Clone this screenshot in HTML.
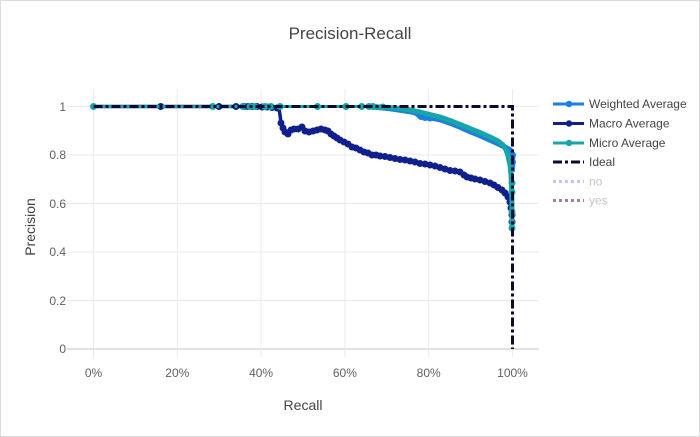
<!DOCTYPE html>
<html><head><meta charset="utf-8"><style>
html,body{margin:0;padding:0;background:#fff;}
svg{display:block;font-family:"Liberation Sans",Arial,sans-serif;}
</style></head><body>
<svg width="700" height="437" viewBox="0 0 700 437" xmlns="http://www.w3.org/2000/svg">
<rect x="0.5" y="0.5" width="699" height="436" fill="#fff" stroke="#dcdcdc" stroke-width="1"/>
<!-- grid -->
<g stroke="#ebebeb" stroke-width="1">
<line x1="93.5" y1="89" x2="93.5" y2="357"/>
<line x1="177.3" y1="89" x2="177.3" y2="357"/>
<line x1="261.1" y1="89" x2="261.1" y2="357"/>
<line x1="344.9" y1="89" x2="344.9" y2="357"/>
<line x1="428.7" y1="89" x2="428.7" y2="357"/>
<line x1="512.5" y1="89" x2="512.5" y2="357"/>
<line x1="67" y1="106.5" x2="539" y2="106.5"/>
<line x1="67" y1="155" x2="539" y2="155"/>
<line x1="67" y1="203.5" x2="539" y2="203.5"/>
<line x1="67" y1="252" x2="539" y2="252"/>
<line x1="67" y1="300.5" x2="539" y2="300.5"/>
</g>
<line x1="67" y1="349" x2="539" y2="349" stroke="#e2e2e2" stroke-width="2"/>
<!-- tick labels -->
<g font-size="12" fill="#606060" text-anchor="end">
<text x="66" y="111">1</text>
<text x="66" y="159">0.8</text>
<text x="66" y="208">0.6</text>
<text x="66" y="256">0.4</text>
<text x="66" y="305">0.2</text>
<text x="66" y="353">0</text>
</g>
<g font-size="12" fill="#606060" text-anchor="middle">
<text x="93.5" y="377">0%</text>
<text x="177.3" y="377">20%</text>
<text x="261.1" y="377">40%</text>
<text x="344.9" y="377">60%</text>
<text x="428.7" y="377">80%</text>
<text x="512.5" y="377">100%</text>
</g>
<text x="350" y="39" font-size="17" fill="#444" text-anchor="middle">Precision-Recall</text>
<text x="303" y="410" font-size="14" fill="#444" text-anchor="middle">Recall</text>
<text transform="translate(35,227) rotate(-90)" font-size="14" fill="#444" text-anchor="middle">Precision</text>

<!-- Weighted -->
<polyline fill="none" stroke="#1a7fe0" stroke-width="3" points="93,106.5 370,106.5"/>
<polyline fill="none" stroke="#1a7fe0" stroke-width="5.5" stroke-linejoin="round" points="370,106.5 390,108.5 410,111.5 416,113 420,116 425,117.5 432,118 440,119.5 450,123 460,127 470,131.5 480,135.5 490,140 500,144.5 505,147 508,149 511,151 512.5,156 512.5,164 512,172"/>
<g fill="#1a7fe0">
<circle cx="421" cy="116.5" r="3.5"/><circle cx="425" cy="117.5" r="3.5"/><circle cx="430" cy="118" r="3.5"/>
<circle cx="509" cy="150" r="3.5"/><circle cx="512.5" cy="155" r="3.5"/><circle cx="512.5" cy="162" r="3.5"/>
</g>
<!-- Macro -->
<polyline fill="none" stroke="#0f1f8c" stroke-width="3.5" stroke-linejoin="round" points="93,106.5 160,106.5 212,106.5 236,106.5 260,106.5 265,107 270,107.5 275,108 279,108.5 280,115 281,123 283,128 285,132 288,134 291,130 294,129 298,129 302,127 305,131 309,132 313,131 317,130 321,129 325,130 328,131 331,134 334,136 337,138 340,140 344,142 348,144 352,147 356,148 360,150 364,152 368,153 372,155 376,155 380,156 385,156.5 390,157.5 395,158.5 400,159.5 405,160 410,161 415,162 420,163.5 425,164 430,165 435,166 440,167.5 445,169 450,170.5 455,171 460,172 464,175 467,177 471,178 475,179 480,180 485,181.5 490,183 494,185 498,187.5 502,190 505,193 508,197 510,202 511,208 511.5,215 512,222 512,228"/>
<g fill="#0f1f8c">
<circle cx="160.7" cy="106.5" r="3.5"/><circle cx="219" cy="106.5" r="3.5"/><circle cx="236" cy="106.5" r="3.5"/>
<circle cx="244" cy="106.5" r="3.5"/><circle cx="248" cy="106.5" r="3.5"/><circle cx="252" cy="106.5" r="3.5"/><circle cx="257" cy="106.5" r="3.5"/>
<circle cx="262" cy="107" r="3.5"/><circle cx="267" cy="107" r="3.5"/><circle cx="272" cy="107.5" r="3.5"/><circle cx="277" cy="108" r="3.5"/>
<circle cx="281" cy="123" r="3.5"/><circle cx="283" cy="128" r="3.5"/><circle cx="285" cy="132" r="3.5"/><circle cx="288" cy="134" r="3.5"/>
<circle cx="291" cy="130" r="3.5"/><circle cx="294" cy="129" r="3.5"/><circle cx="298" cy="129" r="3.5"/><circle cx="302" cy="127" r="3.5"/>
<circle cx="305" cy="131" r="3.5"/><circle cx="309" cy="132" r="3.5"/><circle cx="313" cy="131" r="3.5"/><circle cx="317" cy="130" r="3.5"/>
<circle cx="321" cy="129" r="3.5"/><circle cx="325" cy="130" r="3.5"/><circle cx="328" cy="131" r="3.5"/><circle cx="331" cy="134" r="3.5"/>
<circle cx="334" cy="136" r="3.5"/><circle cx="337" cy="138" r="3.5"/><circle cx="340" cy="140" r="3.5"/><circle cx="344" cy="142" r="3.5"/>
<circle cx="348" cy="144" r="3.5"/><circle cx="352" cy="147" r="3.5"/><circle cx="356" cy="148" r="3.5"/><circle cx="360" cy="150" r="3.5"/>
<circle cx="364" cy="152" r="3.5"/><circle cx="368" cy="153" r="3.5"/><circle cx="372" cy="155" r="3.5"/><circle cx="376" cy="155" r="3.5"/>
<circle cx="380" cy="156" r="3.5"/><circle cx="385" cy="156.5" r="3.5"/><circle cx="390" cy="157.5" r="3.5"/><circle cx="395" cy="158.5" r="3.5"/>
<circle cx="400" cy="159.5" r="3.5"/><circle cx="405" cy="160" r="3.5"/><circle cx="410" cy="161" r="3.5"/><circle cx="415" cy="162" r="3.5"/>
<circle cx="420" cy="163.5" r="3.5"/><circle cx="425" cy="164" r="3.5"/><circle cx="430" cy="165" r="3.5"/><circle cx="435" cy="166" r="3.5"/>
<circle cx="440" cy="167.5" r="3.5"/><circle cx="445" cy="169" r="3.5"/><circle cx="450" cy="170.5" r="3.5"/><circle cx="455" cy="171" r="3.5"/>
<circle cx="460" cy="172" r="3.5"/><circle cx="464" cy="175" r="3.5"/><circle cx="467" cy="177" r="3.5"/><circle cx="471" cy="178" r="3.5"/>
<circle cx="475" cy="179" r="3.5"/><circle cx="480" cy="180" r="3.5"/><circle cx="485" cy="181.5" r="3.5"/><circle cx="490" cy="183" r="3.5"/>
<circle cx="494" cy="185" r="3.5"/><circle cx="498" cy="187.5" r="3.5"/><circle cx="502" cy="190" r="3.5"/><circle cx="505" cy="193" r="3.5"/>
<circle cx="508" cy="197" r="3.5"/><circle cx="510" cy="202" r="3.5"/><circle cx="511" cy="208" r="3.5"/><circle cx="512" cy="215" r="3.5"/>
<circle cx="512" cy="222" r="3.5"/>
</g>
<!-- Micro -->
<polyline fill="none" stroke="#17a5aa" stroke-width="3" points="93,106.5 372,106.5"/>
<polyline fill="none" stroke="#17a5aa" stroke-width="5" stroke-linejoin="round" points="372,106.5 380,107 390,107.5 400,108.5 410,110 420,112 430,114.5 440,117 450,120.5 460,124.5 470,128.5 480,132.5 490,137 498,141 503,145 506,150 508,156 510,165 511,175 511.7,190 512,205 512,228"/>
<g fill="#17a5aa">
<circle cx="93.5" cy="106.5" r="3.5"/><circle cx="212.7" cy="106.5" r="3.5"/><circle cx="242.7" cy="106.5" r="3.5"/>
<circle cx="250" cy="106.5" r="3.5"/><circle cx="255" cy="106.5" r="3.5"/><circle cx="265" cy="106.5" r="3.5"/><circle cx="271" cy="106.5" r="3.5"/>
<circle cx="280" cy="106.5" r="3.5"/><circle cx="317.5" cy="106.5" r="3.5"/><circle cx="346" cy="106.5" r="3.5"/><circle cx="361.7" cy="106.5" r="3.5"/>
<circle cx="369" cy="106.5" r="3.5"/><circle cx="373" cy="106.5" r="3.5"/><circle cx="382.7" cy="107" r="3.5"/>
<circle cx="512" cy="183" r="3.5"/><circle cx="512" cy="192" r="3.5"/><circle cx="512" cy="212" r="3.5"/><circle cx="512" cy="228" r="3.5"/>
</g>
<!-- Ideal -->
<polyline fill="none" stroke="#0b0b2b" stroke-width="3" stroke-dasharray="9,3,3,3" points="93.5,106.5 512.5,106.5 512.5,349"/>

<!-- legend -->
<g>
<line x1="553" y1="104" x2="584" y2="104" stroke="#1a7fe0" stroke-width="3"/><circle cx="569" cy="104" r="3.2" fill="#1a7fe0"/>
<line x1="553" y1="123.5" x2="584" y2="123.5" stroke="#0f1f8c" stroke-width="3"/><circle cx="569" cy="123.5" r="3.2" fill="#0f1f8c"/>
<line x1="553" y1="143" x2="584" y2="143" stroke="#17a5aa" stroke-width="3"/><circle cx="569" cy="143" r="3.2" fill="#17a5aa"/>
<line x1="553" y1="162" x2="584" y2="162" stroke="#0b0b2b" stroke-width="3" stroke-dasharray="9,3,3,3"/>
<line x1="553" y1="181.5" x2="584" y2="181.5" stroke="#cbc3f2" stroke-width="3" stroke-dasharray="3,3"/>
<line x1="553" y1="200.5" x2="584" y2="200.5" stroke="#a57f9f" stroke-width="3" stroke-dasharray="3,3"/>
</g>
<g font-size="12" fill="#444">
<text x="589" y="108">Weighted Average</text>
<text x="589" y="127.5">Macro Average</text>
<text x="589" y="147">Micro Average</text>
<text x="589" y="166">Ideal</text>
<text x="589" y="185.5" fill="#c4c4c4">no</text>
<text x="589" y="204.5" fill="#c4c4c4">yes</text>
</g>
</svg>
</body></html>
